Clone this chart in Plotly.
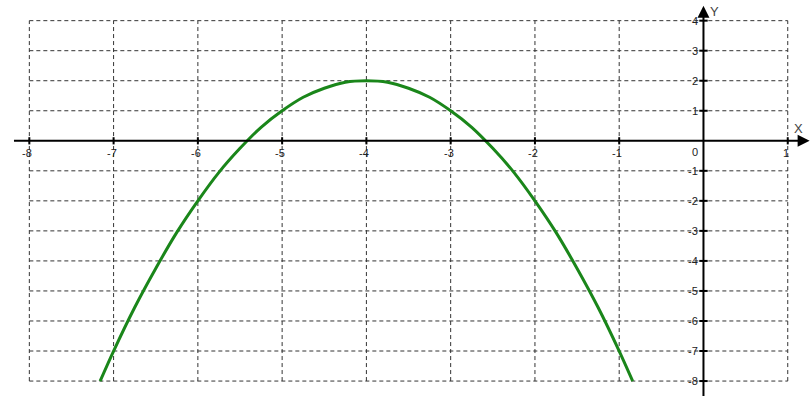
import plotly.graph_objects as go

# points
curve_x = [-7.16, -7.0, -6.75, -6.5, -6.25, -6.0, -5.75, -5.5, -5.25, -5.0, -4.75, -4.5, -4.25,
           -4.0, -3.75, -3.5, -3.25, -3.0, -2.75, -2.5, -2.25, -2.0, -1.75, -1.5, -1.25, -1.0, -0.84]
curve_y = [-8.0, -7.0, -5.55, -4.25, -3.05, -2.0, -1.05, -0.25, 0.45, 1.0, 1.45, 1.75, 1.95,
           2.0, 1.95, 1.75, 1.45, 1.0, 0.45, -0.25, -1.05, -2.0, -3.05, -4.25, -5.55, -7.0, -8.0]

x_ticks = [-8, -7, -6, -5, -4, -3, -2, -1, 1]
y_ticks = [4, 3, 2, 1, -1, -2, -3, -4, -5, -6, -7, -8]
x_grid = [-8, -7, -6, -5, -4, -3, -2, -1, 0, 1]
y_grid = [4, 3, 2, 1, 0, -1, -2, -3, -4, -5, -6, -7, -8]

GRID = '#333333'
TEXT = '#222222'
FONT = dict(family='Liberation Sans, Arial', size=11, color=TEXT)

fig = go.Figure()
fig.add_trace(go.Scatter(x=curve_x, y=curve_y, mode='lines',
                         line=dict(color='#1a861a', width=3, shape='spline', smoothing=0.8),
                         hoverinfo='skip', showlegend=False))

shapes = []
for gx in x_grid:
    if gx != 0:
        shapes.append(dict(type='line', x0=gx, x1=gx, y0=min(y_grid), y1=max(y_grid),
                           line=dict(color=GRID, width=1, dash='4px,3px'), layer='below'))
for gy in y_grid:
    if gy != 0:
        shapes.append(dict(type='line', x0=min(x_grid), x1=max(x_grid), y0=gy, y1=gy,
                           line=dict(color=GRID, width=1, dash='4px,3px'), layer='below'))

# tick marks on the axes
for tx in x_ticks:
    shapes.append(dict(type='line', x0=tx, x1=tx, y0=-0.12, y1=0.12,
                       line=dict(color='black', width=2)))
for ty in y_ticks:
    shapes.append(dict(type='line', x0=-0.05, x1=0.05, y0=ty, y1=ty,
                       line=dict(color='black', width=2)))

annotations = []
# axes with arrows
annotations.append(dict(x=1.26, y=0, ax=-8.2, ay=0, xref='x', yref='y', axref='x', ayref='y',
                        showarrow=True, arrowhead=2, arrowsize=1.2, arrowwidth=2,
                        arrowcolor='black', text=''))
annotations.append(dict(x=0, y=4.5, ax=0, ay=-8.55, xref='x', yref='y', axref='x', ayref='y',
                        showarrow=True, arrowhead=2, arrowsize=1.2, arrowwidth=2,
                        arrowcolor='black', text=''))

for tx in x_ticks:
    annotations.append(dict(x=tx, y=0, xref='x', yref='y', text=str(tx), showarrow=False,
                            xanchor='center', yanchor='top', xshift=-2, yshift=-4, font=FONT))
for ty in y_ticks:
    annotations.append(dict(x=0, y=ty, xref='x', yref='y', text=str(ty), showarrow=False,
                            xanchor='right', yanchor='middle', xshift=-3, font=FONT))
annotations.append(dict(x=0, y=0, xref='x', yref='y', text='0', showarrow=False,
                        xanchor='right', yanchor='top', xshift=-3, yshift=-3, font=FONT))
annotations.append(dict(x=1.05, y=0, xref='x', yref='y', text='X', showarrow=False,
                        xanchor='left', yanchor='bottom', yshift=3,
                        font=dict(family='Liberation Sans, Arial', size=13, color='#444')))
annotations.append(dict(x=0, y=4.3, xref='x', yref='y', text='Y', showarrow=False,
                        xanchor='left', yanchor='middle', xshift=5,
                        font=dict(family='Liberation Sans, Arial', size=13, color='#444')))

fig.update_layout(
    width=811, height=403,
    margin=dict(l=0, r=0, t=0, b=0, pad=0, autoexpand=False),
    paper_bgcolor='white', plot_bgcolor='white',
    xaxis=dict(range=[-8.348, 1.276], visible=False, fixedrange=True),
    yaxis=dict(range=[-8.731, 4.688], visible=False, fixedrange=True),
    shapes=shapes,
    annotations=annotations,
    showlegend=False,
)

# drop the page's default 8px body margin so the figure sits at the window corner
fig.write_html("out.html", post_script="document.body.style.margin='0';",
               config={'displayModeBar': False})
